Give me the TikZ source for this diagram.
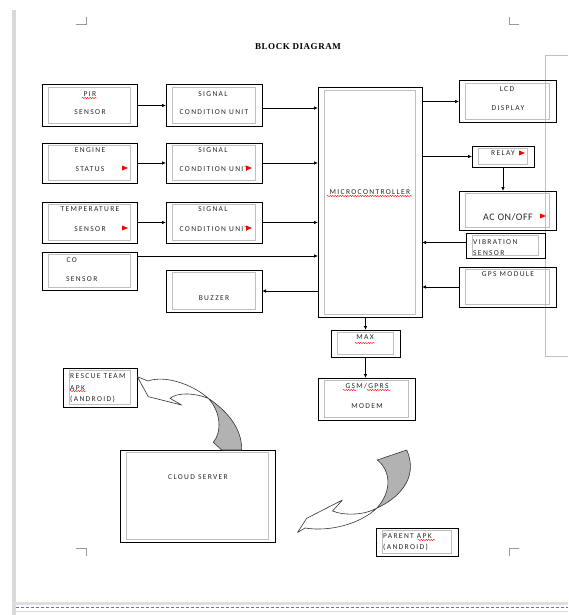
\documentclass[tikz,border=0pt]{standalone}
\usepackage{fontspec}
\setmainfont{Liberation Serif}
\newfontfamily\lblfont[LetterSpace=18]{Carlito}
\newfontfamily\bigfont[LetterSpace=5]{Carlito}
\newfontfamily\ttlfont[LetterSpace=6]{Liberation Serif}
\usetikzlibrary{arrows.meta,decorations.pathmorphing}

% double framed block: name, x1, y1, x2, y2
\newcommand{\blk}[5]{%
  \node[blk, minimum width={#4-#2}, minimum height={#5-#3}] (#1) at ({(#2+#4)/2},{(#3+#5)/2}) {};
  \draw[inbox] ([shift={(6.5pt,-2.5pt)}]#1.north west) rectangle ([shift={(-6.5pt,2.5pt)}]#1.south east);
}

\begin{document}
\begin{tikzpicture}[x=1pt, y=-1pt,
  blk/.style={draw=black, line width=1pt, inner sep=0pt, outer sep=0pt},
  inbox/.style={draw=black!25, line width=0.7pt},
  lbl/.style={font=\lblfont\fontsize{7.5}{8}\selectfont, text=black!85, inner sep=0pt},
  arr/.style={line width=0.7pt, -{Latex[length=4pt,width=3.5pt]}},
  wavy/.style={red, line width=0.4pt, decorate, decoration={snake, amplitude=0.6pt, segment length=2.5pt}},
  curv/.style={draw=black!80, line width=0.6pt, line join=round}]
\useasboundingbox (0,0) rectangle (568,615);

% page
\fill[black!15] (12,10) rectangle (16,615);
\fill[black!12] (12,602) rectangle (568,605);
\draw[blue!60, line width=1.3pt, dash pattern=on 3pt off 2pt] (16,607.5) -- (568,607.5);
\draw[black!15, line width=1pt] (16,611.5) -- (568,611.5);
\draw[black!25, line width=0.7pt] (568,55) -- (545,55) -- (545,356) -- (568,356);
\draw[black!40, line width=0.5pt] (76,24) -- (86,24) -- (86,17);
\draw[black!40, line width=0.5pt] (519,24) -- (509,24) -- (509,17);
\draw[black!40, line width=0.5pt] (76,548) -- (86,548) -- (86,556);
\draw[black!40, line width=0.5pt] (519,548) -- (509,548) -- (509,556);

\node[font=\ttlfont\bfseries\fontsize{9}{10}\selectfont, inner sep=0pt] (title) at (298,47) {BLOCK DIAGRAM};

% blocks
\blk{pir}{42}{85}{137}{126}
\blk{sc1}{166}{85}{262}{126}
\blk{eng}{42}{143}{137}{183}
\blk{sc2}{166}{143}{262}{183}
\blk{tmp}{42}{202}{137}{243}
\blk{sc3}{166}{202}{262}{243}
\blk{co}{42}{252}{137}{290}
\blk{buz}{166}{270}{262}{312}
\blk{mcu}{318}{88}{422}{317}
\blk{lcd}{459}{81}{556}{122}
\blk{rly}{472}{146}{534}{167}
\blk{ac}{459}{191}{556}{230}
\blk{vib}{466}{233}{545}{258}
\blk{gps}{459}{267}{556}{307}
\blk{max}{331}{330}{400}{357}
\blk{gsm}{318}{378}{415}{420}
\blk{rsc}{63}{368}{137}{407}
\blk{cld}{120}{450}{275}{542}
\blk{par}{376}{528}{458}{556}

% texts
\node[lbl] (pirt1) at (90,94) {PIR};
\node[lbl] (pirt2) at (90,112) {SENSOR};
\node[lbl] (sc1t1) at (213,94) {SIGNAL};
\node[lbl] (sc1t2) at (214,112) {CONDITION UNIT};
\node[lbl] (engt1) at (90,150) {ENGINE};
\node[lbl] (engt2) at (90,169) {STATUS};
\node[lbl] (sc2t1) at (213,150) {SIGNAL};
\node[lbl] (sc2t2) at (214,169) {CONDITION UNIT};
\node[lbl] (tmpt1) at (90,209) {TEMPERATURE};
\node[lbl] (tmpt2) at (90,229) {SENSOR};
\node[lbl] (sc3t1) at (213,209) {SIGNAL};
\node[lbl] (sc3t2) at (214,229) {CONDITION UNIT};
\node[lbl, anchor=west] (cot1) at (66.5,260) {CO};
\node[lbl, anchor=west] (cot2) at (66,279) {SENSOR};
\node[lbl] (buzt) at (214,298) {BUZZER};
\node[lbl] (mcut) at (370,192) {MICROCONTROLLER};
\node[lbl] (lcdt1) at (507,89) {LCD};
\node[lbl] (lcdt2) at (508,108) {DISPLAY};
\node[lbl] (rlyt) at (503,153) {RELAY};
\node[lbl, font=\bigfont\fontsize{10}{11}\selectfont] (act) at (508,217) {AC ON/OFF};
\node[lbl, anchor=west] (vibt1) at (473,242) {VIBRATION};
\node[lbl, anchor=west] (vibt2) at (473,253) {SENSOR};
\node[lbl] (gpst) at (508,274) {GPS MODULE};
\node[lbl] (maxt) at (365,337) {MAX};
\node[lbl] (gsmt1) at (367,386) {GSM/GPRS};
\node[lbl] (gsmt2) at (367,406) {MODEM};
\node[lbl, anchor=west] (rsct1) at (70,376) {RESCUE TEAM};
\node[lbl, anchor=west] (rsct2) at (70,388) {APK};
\node[lbl, anchor=west] (rsct3) at (70,399) {(ANDROID)};
\node[lbl] (cldt) at (198,477) {CLOUD SERVER};
\node[lbl, anchor=west] (part1) at (383,536) {PARENT APK};
\node[lbl, anchor=west] (part2) at (383,547) {(ANDROID)};

% spell marks
\foreach \a/\b/\y in {82/97/98, 327/412/196, 355/375/343, 343/357/390, 367/390/390, 70/86/391, 418/435/540}
  \draw[wavy] (\a,\y) -- (\b,\y);

% red markers
\foreach \x/\y in {125/168, 249/168, 125/228, 249/228, 522/153, 543/216}
  \fill[red] (\x-3,\y-2.5) -- (\x+3,\y) -- (\x-3,\y+2.5) -- cycle;

% connectors
\draw[arr] (pir) -- (sc1);
\draw[arr] ([yshift=-2.5pt]sc1.east) -- ([yshift=-2.5pt]sc1.east -| mcu.west);
\draw[arr] (eng) -- (sc2);
\draw[arr] (sc2.east) -- (sc2.east -| mcu.west);
\draw[arr] (tmp) -- (sc3);
\draw[arr] (sc3.east) -- (sc3.east -| mcu.west);
\draw[arr] ([yshift=-4pt]co.north east) -- ([yshift=-4pt]co.north east -| mcu.west);
\draw[arr] (buz.east -| mcu.west) -- (buz.east);
\draw[arr] (lcd.west -| mcu.east) -- (lcd.west);
\draw[arr] (rly.west -| mcu.east) -- (rly.west);
\draw[arr] (rly.south) -- (rly.south |- ac.north);
\draw[arr] ([yshift=3pt]vib.west) -- ([yshift=3pt]vib.west -| mcu.east);
\draw[arr] (gps.west) -- (gps.west -| mcu.east);
\draw[arr] (max.north |- mcu.south) -- (max.north);
\draw[arr] (max.south) -- (max.south |- gsm.north);

% curved arrow to rescue team
\draw[curv, fill=black!30] (208.3,398.3) .. controls (227,411) and (242,428) .. (241.7,450)
  -- (221.7,450) -- (213.3,442.3) .. controls (222,432) and (221,412) .. (208.3,398.3) -- cycle;
\draw[curv, fill=white] (137.3,376.7) -- (148,381) .. controls (165,375) and (192,384) .. (208.3,398.3)
  .. controls (195,393) and (178,392) .. (170,398.3) -- (181.7,405) -- (148.3,396.7) -- cycle;

% curved arrow to parent
\draw[curv, fill=black!30] (377,508) .. controls (395,500) and (420,480) .. (406.7,450)
  -- (377.3,460) .. controls (390,470) and (393,490) .. (377,508) -- cycle;
\draw[curv, fill=white] (297.5,532.5) -- (306.7,518.3) -- (342.5,500) -- (332.5,511)
  .. controls (345,516) and (365,515) .. (377,508)
  .. controls (360,524) and (330,532) .. (305,528) -- cycle;
\end{tikzpicture}
\end{document}
